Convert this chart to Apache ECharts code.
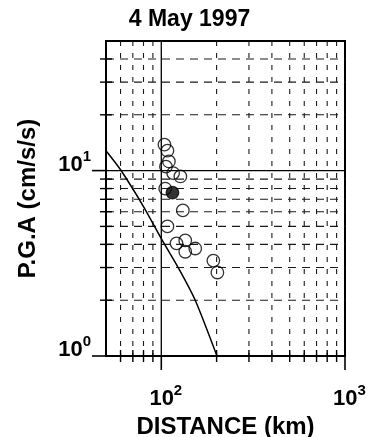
<!DOCTYPE html>
<html>
<head>
<meta charset="utf-8">
<script src="https://cdn.jsdelivr.net/npm/echarts@6/dist/echarts.min.js"></script>
<style>
  html, body { margin: 0; padding: 0; background: #fff; }
  #chart { width: 379px; height: 437px; }
</style>
</head>
<body>
<div id="chart"></div>
<script>
// Peak ground acceleration vs. hypocentral distance, 4 May 1997 event
const FONT = '"Liberation Sans", Arial, Helvetica, sans-serif';

const titleText = '4 May 1997';
const xName = 'DISTANCE (km)';
const yName = 'P.G.A (cm/s/s)';

// Axis extents (log scales)
const xRange = [50, 1000];
const yRange = [1, 50];

// Decade lines/ticks and the in-between grid values
const xMajor = [100, 1000];
const yMajor = [1, 10];
const xMinor = [60, 70, 80, 90, 200, 300, 400, 500, 600, 700, 800, 900];
const yMinor = [2, 3, 4, 5, 6, 7, 8, 9, 20, 30, 40];

// Observed stations (open circles)
const openDist = [104, 108, 110, 106, 116, 127, 105, 131, 108, 121, 135, 135, 153, 192, 202];
const openPga  = [13.8, 12.8, 11.2, 10.5, 9.7, 9.3, 8.0, 6.1, 5.0, 4.05, 4.2, 3.65, 3.8, 3.27, 2.82];

// Highlighted station (filled circle)
const filledDist = [115];
const filledPga  = [7.6];

// Attenuation curve
const curveDist = [50, 60, 80, 100, 126, 153, 201];
const curvePga  = [12.8, 10.1, 6.4, 4.3, 2.9, 2.0, 1.0];

const zip = (a, b) => a.map((v, i) => [v, b[i]]);

function isDecade(v) {
  const e = Math.log10(v);
  return Math.abs(e - Math.round(e)) < 1e-6;
}

// "10" with a raised exponent: both tokens sit on a short line, the
// exponent is lifted by its bottom padding
const rich = {
  p: { width: 9 },
  b: { fontSize: 22, fontWeight: 'bold', fontFamily: FONT, color: '#000',
       lineHeight: 10, verticalAlign: 'bottom' },
  s: { fontSize: 15, fontWeight: 'bold', fontFamily: FONT, color: '#000',
       lineHeight: 10, verticalAlign: 'bottom', padding: [0, 0, 11.5, 0] }
};

const gridStroke = '#1a1a1a';

function vMinorItem(params, api) {
  const v = api.value(0);
  const top = api.coord([v, yRange[1]]);
  const bot = api.coord([v, yRange[0]]);
  return {
    type: 'group',
    children: [
      { type: 'line', shape: { x1: top[0], y1: top[1], x2: bot[0], y2: bot[1] },
        style: { stroke: gridStroke, lineWidth: 1.1, lineDash: [5, 7] } },
      { type: 'line', shape: { x1: bot[0], y1: bot[1] - 6, x2: bot[0], y2: bot[1] + 6 },
        style: { stroke: '#000', lineWidth: 1.4 } }
    ]
  };
}

function hMinorItem(params, api) {
  const v = api.value(1);
  const l = api.coord([xRange[0], v]);
  const r = api.coord([xRange[1], v]);
  return {
    type: 'group',
    children: [
      { type: 'line', shape: { x1: l[0], y1: l[1], x2: r[0], y2: r[1] },
        style: { stroke: gridStroke, lineWidth: 1.1, lineDash: [8, 6] } },
      { type: 'line', shape: { x1: l[0] - 6, y1: l[1], x2: l[0] + 6, y2: l[1] },
        style: { stroke: '#000', lineWidth: 1.4 } }
    ]
  };
}

function vMajorItem(params, api) {
  const v = api.value(0);
  const top = api.coord([v, yRange[1]]);
  const bot = api.coord([v, yRange[0]]);
  const children = [
    { type: 'line', shape: { x1: bot[0], y1: bot[1], x2: bot[0], y2: bot[1] + 14 },
      style: { stroke: '#000', lineWidth: 1.6 } }
  ];
  if (v < xRange[1]) {
    children.push({ type: 'line', shape: { x1: top[0], y1: top[1], x2: bot[0], y2: bot[1] },
      style: { stroke: '#000', lineWidth: 1.3 } });
  }
  return { type: 'group', children };
}

function hMajorItem(params, api) {
  const v = api.value(1);
  const l = api.coord([xRange[0], v]);
  const r = api.coord([xRange[1], v]);
  const children = [
    { type: 'line', shape: { x1: l[0] - 14, y1: l[1], x2: l[0], y2: l[1] },
      style: { stroke: '#000', lineWidth: 1.6 } }
  ];
  if (v > yRange[0]) {
    children.push({ type: 'line', shape: { x1: l[0], y1: l[1], x2: r[0], y2: r[1] },
      style: { stroke: '#000', lineWidth: 1.3 } });
  }
  return { type: 'group', children };
}

const chart = echarts.init(document.getElementById('chart'), null, { renderer: 'canvas' });

chart.setOption({
  animation: false,
  backgroundColor: '#fff',
  title: {
    text: titleText,
    left: 'center',
    top: 3,
    textStyle: { fontFamily: FONT, fontSize: 23, fontWeight: 'bold', color: '#000' }
  },
  grid: {
    left: 106, right: 34, top: 41, bottom: 81,
    outerBoundsMode: 'none',
    show: true, borderColor: '#000', borderWidth: 2, backgroundColor: 'transparent'
  },
  xAxis: {
    type: 'log', logBase: 10, min: xRange[0], max: xRange[1],
    name: xName, nameLocation: 'middle', nameGap: 53,
    nameTextStyle: { fontFamily: FONT, fontSize: 24, fontWeight: 'bold', color: '#000' },
    axisLine: { show: false }, axisTick: { show: false }, splitLine: { show: false },
    axisLabel: {
      margin: 48,
      verticalAlign: 'middle',
      rich,
      formatter: v => isDecade(v) ? '{p| }{b|10}{s|' + Math.round(Math.log10(v)) + '}' : ''
    }
  },
  yAxis: {
    type: 'log', logBase: 10, min: yRange[0], max: yRange[1],
    name: yName, nameLocation: 'middle', nameGap: 66,
    nameTextStyle: { fontFamily: FONT, fontSize: 24, fontWeight: 'bold', color: '#000' },
    axisLine: { show: false }, axisTick: { show: false }, splitLine: { show: false },
    axisLabel: {
      margin: 15,
      verticalAlign: 'middle',
      rich,
      formatter: v => isDecade(v) ? '{b|10}{s|' + Math.round(Math.log10(v)) + '}' : ''
    }
  },
  series: [
    { type: 'custom', name: 'vMinor', silent: true, z: 1, clip: false,
      renderItem: vMinorItem, data: xMinor.map(v => [v, yRange[0]]) },
    { type: 'custom', name: 'hMinor', silent: true, z: 1, clip: false,
      renderItem: hMinorItem, data: yMinor.map(v => [xRange[0], v]) },
    { type: 'custom', name: 'vMajor', silent: true, z: 2, clip: false,
      renderItem: vMajorItem, data: xMajor.map(v => [v, yRange[0]]) },
    { type: 'custom', name: 'hMajor', silent: true, z: 2, clip: false,
      renderItem: hMajorItem, data: yMajor.map(v => [xRange[0], v]) },
    { type: 'line', name: 'curve', data: zip(curveDist, curvePga), showSymbol: false,
      smooth: 0.25, silent: true, z: 3,
      lineStyle: { color: '#000', width: 1.5 } },
    { type: 'scatter', name: 'open', data: zip(openDist, openPga), symbol: 'circle',
      symbolSize: 12.5, silent: true, z: 4,
      itemStyle: { color: 'rgba(255,255,255,0)', borderColor: '#000', borderWidth: 1.3 } },
    { type: 'scatter', name: 'filled', data: zip(filledDist, filledPga), symbol: 'circle',
      symbolSize: 12.5, silent: true, z: 5,
      itemStyle: { color: '#000', borderColor: '#000', borderWidth: 1.3 } }
  ]
});
</script>
</body>
</html>
